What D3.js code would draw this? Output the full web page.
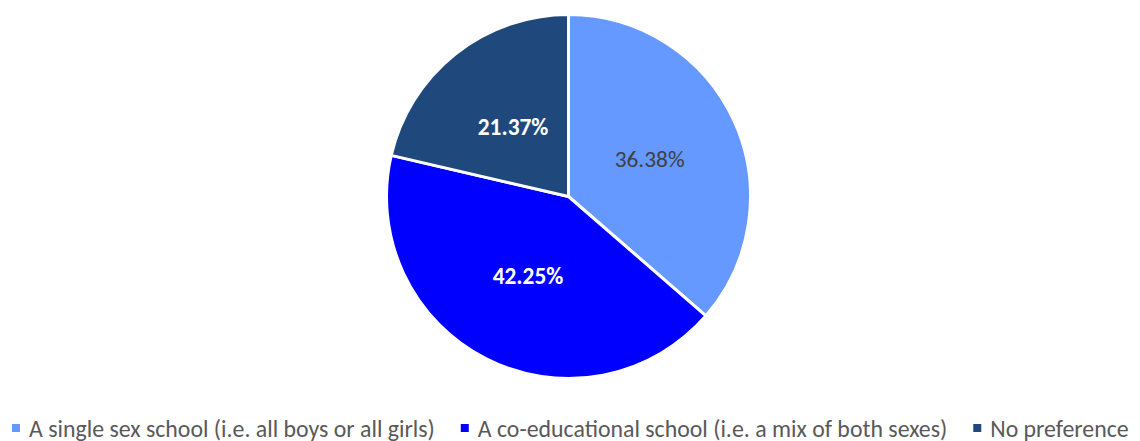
<!DOCTYPE html>
<html>
<head>
<meta charset="utf-8">
<script src="https://cdn.jsdelivr.net/npm/d3@7"></script>
<style>
  html, body { margin: 0; padding: 0; background: #fff; }
  svg { display: block; }
</style>
</head>
<body>
<svg id="chart" width="1140" height="441"></svg>
<script>
// School preference shares
const categories = [
  "A single sex school (i.e. all boys or all girls)",
  "A co-educational school (i.e. a mix of both sexes)",
  "No preference"
];
const values = [36.38, 42.25, 21.37];
const colors = ["#6699FF", "#0000FF", "#1F497D"];
const labelColors = ["#404040", "#FFFFFF", "#FFFFFF"];
const labelWeights = ["normal", "bold", "bold"];

const W = 1140, H = 441;
const cx = 568.5, cy = 196.5, radius = 182;
const fontFamily = "Carlito, Calibri, 'Open Sans', sans-serif";

const svg = d3.select("#chart");

const data = categories.map((c, i) => ({ name: c, value: values[i], i }));

const pie = d3.pie().value(d => d.value).sort(null);
const arcs = pie(data);
const arc = d3.arc().innerRadius(0).outerRadius(radius);
const labelArc = d3.arc().innerRadius(radius * 0.49).outerRadius(radius * 0.49);

const g = svg.append("g").attr("transform", `translate(${cx},${cy})`);

g.selectAll("path.slice")
  .data(arcs)
  .join("path")
  .attr("class", "slice")
  .attr("d", arc)
  .attr("fill", d => colors[d.data.i])
  .attr("stroke", "#fff")
  .attr("stroke-width", 3)
  .attr("stroke-linejoin", "round");

// Font size chosen so a value label spans about 70px
const probe = svg.append("text")
  .attr("font-family", fontFamily).attr("font-size", 20).text("36.38%");
const labelSize = 20 * 70 / probe.node().getComputedTextLength();
probe.remove();

g.selectAll("text.val")
  .data(arcs)
  .join("text")
  .attr("class", "val")
  .attr("transform", d => `translate(${labelArc.centroid(d)})`)
  .attr("text-anchor", "middle")
  .attr("dominant-baseline", "central")
  .attr("font-family", fontFamily)
  .attr("font-size", labelSize)
  .attr("font-weight", d => labelWeights[d.data.i])
  .attr("fill", d => labelColors[d.data.i])
  .text(d => d.data.value.toFixed(2) + "%");

// Legend along the bottom, sized to span the chart width
const legend = svg.append("g");
const marker = 8, markerGap = 9, itemGap = 26;
const legendLeft = 12, legendRight = 1129;
const items = legend.selectAll("g.item")
  .data(data)
  .join("g")
  .attr("class", "item");

items.append("rect")
  .attr("width", marker)
  .attr("height", marker)
  .attr("y", -marker / 2)
  .attr("fill", d => colors[d.i]);

const legendText = items.append("text")
  .attr("x", marker + markerGap)
  .attr("dominant-baseline", "central")
  .attr("font-family", fontFamily)
  .attr("font-size", 20)
  .attr("fill", "#595959")
  .text(d => d.name);

const fixed = data.length * (marker + markerGap) + itemGap * (data.length - 1);
const textTotal = d3.sum(legendText.nodes(), n => n.getComputedTextLength());
const legendSize = 20 * (legendRight - legendLeft - fixed) / textTotal;
legendText.attr("font-size", legendSize);

const widths = legendText.nodes().map(n => marker + markerGap + n.getComputedTextLength());
let start = legendLeft;
items.attr("transform", (d, i) => {
  const tx = start;
  start += widths[i] + itemGap;
  return `translate(${tx},${428})`;
});
</script>
</body>
</html>
